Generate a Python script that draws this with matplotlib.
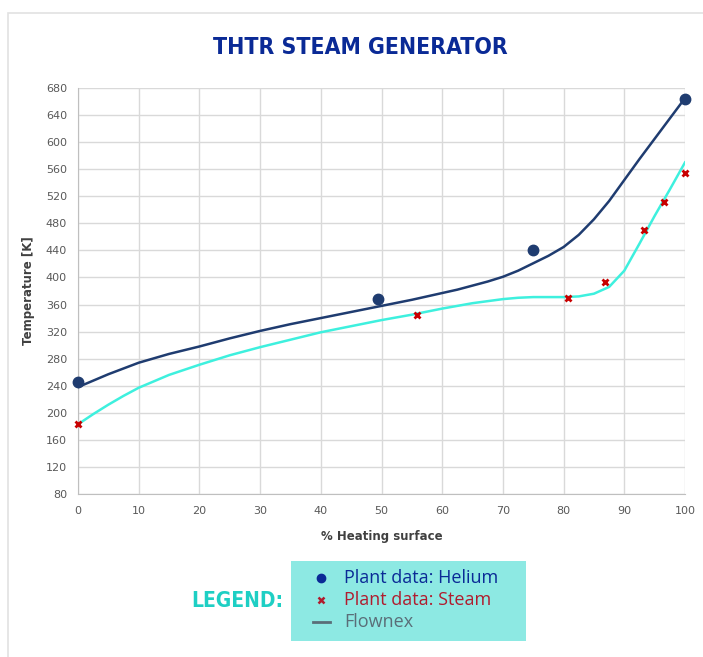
import matplotlib
matplotlib.use("Agg")
import matplotlib.pyplot as plt
from matplotlib.patches import Rectangle
from matplotlib.lines import Line2D

# plant measurements
helium_x = [0, 49.5, 75, 100]
helium_y = [246, 368, 441, 664]
steam_x = [0, 55.8, 80.7, 86.8, 93.3, 96.5, 100]
steam_y = [184, 345, 370, 393, 470, 511, 555]

# Flownex results
fx_he = [0, 5, 10, 15, 20, 25, 30, 35, 40, 45, 50, 55, 60, 62.5, 65, 67.5, 70,
         72.5, 75, 77.5, 80, 82.5, 85, 87.5, 90, 92.5, 95, 97.5, 100]
fy_he = [238, 257, 274, 287, 298, 310, 321, 331, 340, 349, 358, 367, 377, 382,
         388, 394, 401, 410, 421, 432, 445, 463, 486, 513, 544, 575, 605, 635, 665]
fx_st = [0, 2.5, 5, 7.5, 10, 15, 20, 25, 30, 35, 40, 45, 50, 55, 60, 65, 70,
         72.5, 75, 77.5, 80, 82.5, 85, 87.5, 90, 92.5, 95, 97.5, 100]
fy_st = [183, 198, 212, 225, 237, 256, 271, 285, 297, 308, 319, 328, 337, 345,
         354, 362, 368, 370, 371, 371, 371, 372, 376, 386, 410, 450, 491, 530, 570]

xticks = list(range(0, 101, 10))
yticks = list(range(80, 681, 40))

NAVY = "#1f3c70"
CYAN = "#3ef0de"
RED = "#c80000"
TXT = "#595959"

fig = plt.figure(figsize=(7.03, 6.57), dpi=100)
fig.patch.set_facecolor("white")

# card outline
fig.add_artist(Rectangle((8/703, -0.1), 1.2, 1 - 13/657 + 0.1, transform=fig.transFigure,
                         facecolor="none", edgecolor="#e2e2e2", lw=1.2))

ax = fig.add_axes([78/703, 1 - 494/657, 607/703, 406/657])

ax.plot(fx_he, fy_he, color=NAVY, lw=1.8, zorder=3)
ax.plot(fx_st, fy_st, color=CYAN, lw=1.8, zorder=3)
ax.plot(helium_x, helium_y, "o", color=NAVY, ms=7.5, ls="none", zorder=4, clip_on=False)
ax.plot(steam_x, steam_y, "x", color=RED, ms=5, mew=2, ls="none", zorder=4, clip_on=False)

ax.set_xlim(0, 100)
ax.set_ylim(80, 680)
ax.set_xticks(xticks)
ax.set_yticks(yticks)
ax.grid(True, color="#d9d9d9", lw=1)
ax.set_axisbelow(True)
for s in ["top", "right"]:
    ax.spines[s].set_visible(False)
for s in ["left", "bottom"]:
    ax.spines[s].set_color("#bfbfbf")
ax.tick_params(length=0, labelsize=8, labelcolor=TXT, pad=8)
ax.tick_params(axis="x", pad=9)

ax.set_ylabel("Temperature [K]", fontsize=8.5, fontweight="bold", color="#404040", labelpad=8)
ax.set_xlabel("% Heating surface", fontsize=8.5, fontweight="bold", color="#404040", labelpad=10)

fig.text(360/703, 1 - 48/657, "THTR STEAM GENERATOR", ha="center", va="center",
         fontsize=16.5, fontweight="bold", family="DejaVu Sans", fontstretch="condensed",
         color="#0a2a96")

# legend block
fig.text(237/703, 1 - 601/657, "LEGEND:", ha="center", va="center",
         fontsize=15, fontweight="bold", family="DejaVu Sans", fontstretch="condensed",
         color="#1ecfc4")
fig.add_artist(Rectangle((291/703, 1 - 641/657), 235/703, 80/657, transform=fig.transFigure,
                         facecolor="#8de9e3", edgecolor="none"))
rows = [
    ("Plant data: Helium", "#0a2a96", dict(marker="o", color="#0a2a96", ms=6, ls="none")),
    ("Plant data: Steam", "#b01c2e", dict(marker="x", color="#b01c2e", ms=5, mew=1.8, ls="none")),
    ("Flownex", "#5a6e78", dict(color="#5a6e78", lw=2)),
]
for i, (lab, col, sty) in enumerate(rows):
    yy = 1 - (578 + 22 * i) / 657
    if "marker" in sty:
        fig.add_artist(Line2D([321/703], [yy], transform=fig.transFigure, **sty))
    else:
        fig.add_artist(Line2D([313/703, 330/703], [yy, yy], transform=fig.transFigure, **sty))
    fig.text(344/703, yy, lab, ha="left", va="center", fontsize=13,
             family="Open Sans", color=col)

fig.savefig("out.png", dpi=100)
